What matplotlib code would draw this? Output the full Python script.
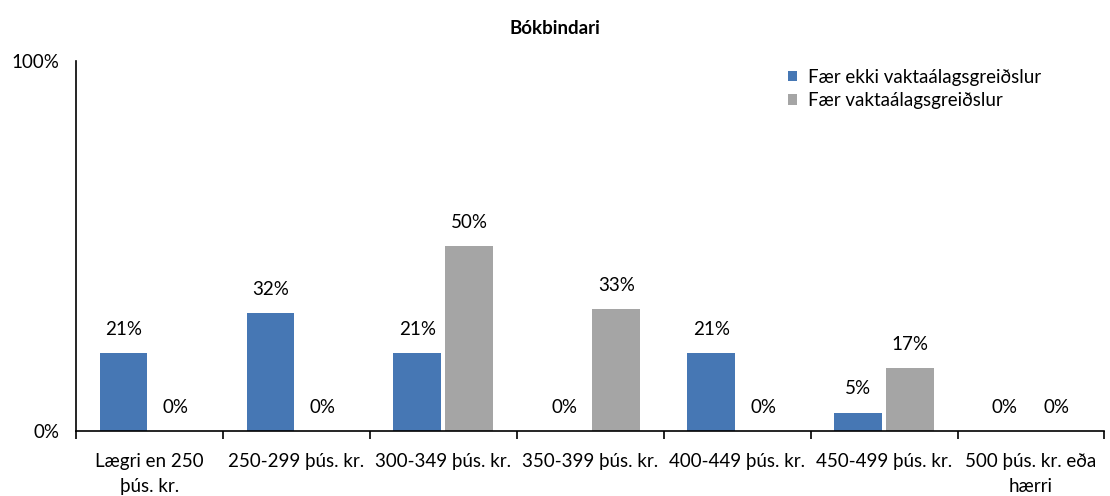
import matplotlib.pyplot as plt
import numpy as np

plt.rcParams['font.family'] = ['Lato', 'DejaVu Sans']

categories = ['Lægri en 250\nþús. kr.', '250-299 þús. kr.', '300-349 þús. kr.',
              '350-399 þús. kr.', '400-449 þús. kr.', '450-499 þús. kr.',
              '500 þús. kr. eða\nhærri']
no_shift = [21, 32, 21, 0, 21, 5, 0]
shift = [0, 0, 50, 33, 0, 17, 0]
series_names = ['Fær ekki vaktaálagsgreiðslur', 'Fær vaktaálagsgreiðslur']
colors = ['#4677b4', '#a5a5a5']

fig = plt.figure(figsize=(11.1, 4.96), dpi=100)
ax = fig.add_axes([0.0685, 0.131, 0.9265, 0.746])

x = np.arange(len(categories))
w = 0.325
off = 0.177
for vals, name, col, sgn in [(no_shift, series_names[0], colors[0], -1),
                             (shift, series_names[1], colors[1], 1)]:
    bars = ax.bar(x + sgn * off, np.array(vals) / 100, w, color=col, label=name)
    for b, v in zip(bars, vals):
        ax.annotate(f'{v}%', (b.get_x() + b.get_width() / 2, b.get_height()),
                    xytext=(0, 17), textcoords='offset points',
                    ha='center', va='center', fontsize=13.5)

ax.set_xlim(-0.5, 6.5)
ax.set_ylim(0, 1)
ax.set_yticks([0, 1])
ax.set_yticklabels(['0%', '100%'], fontsize=13.5)
ax.set_xticks(x)
ax.set_xticklabels(categories, fontsize=13.5)
for lbl in ax.get_xticklabels():
    lbl.set_linespacing(1.55)
ax.set_xticks(np.arange(-0.5, 7, 1), minor=True)
ax.tick_params(axis='x', which='major', length=0, pad=16)
ax.tick_params(axis='x', which='minor', length=6, width=1.2, direction='out')
ax.tick_params(axis='y', length=0, pad=12)
for s in ['top', 'right']:
    ax.spines[s].set_visible(False)
ax.spines['left'].set_linewidth(1.2)
ax.spines['bottom'].set_linewidth(1.2)

ax.legend(loc='upper right', bbox_to_anchor=(0.955, 1.025), frameon=False,
          fontsize=13.5, handlelength=0.45, handleheight=0.45, handletextpad=0.6,
          labelspacing=0.35)
fig.text(0.5, 0.943, 'Bókbindari', ha='center', va='center',
         fontsize=13.5, fontweight='bold')

fig.savefig('out.png', dpi=100)
